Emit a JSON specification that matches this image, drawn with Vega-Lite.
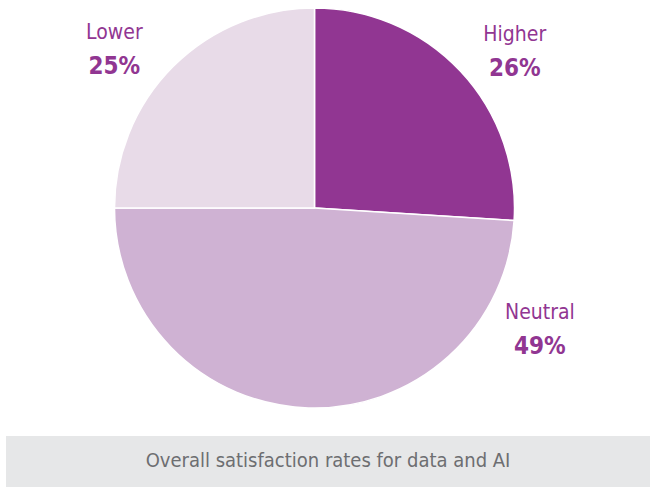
{
  "$schema": "https://vega.github.io/schema/vega-lite/v6.json",
  "padding": {"left": 6, "top": 0, "right": 0, "bottom": 0},
  "background": "white",
  "spacing": 20,
  "config": {"view": {"stroke": null}},
  "vconcat": [
    {
      "width": 617,
      "height": 416,
      "data": {"values": [
        {"category": "Higher", "pct": 26, "rank": 1},
        {"category": "Neutral", "pct": 49, "rank": 2},
        {"category": "Lower", "pct": 25, "rank": 3}
      ]},
      "transform": [{"calculate": "datum.pct + '%'", "as": "label"}],
      "layer": [
        {
          "mark": {"type": "arc", "outerRadius": 200, "stroke": "white", "strokeWidth": 1.5},
          "encoding": {
            "theta": {"field": "pct", "type": "quantitative", "stack": true},
            "order": {"field": "rank", "type": "quantitative"},
            "color": {"field": "category", "type": "nominal",
              "scale": {"domain": ["Higher", "Neutral", "Lower"], "range": ["#913692", "#cfb2d3", "#e8dbe8"]},
              "legend": null}
          }
        },
        {
          "transform": [{"filter": "datum.category === 'Lower'"}],
          "mark": {"type": "text", "font": "DejaVu Sans Condensed", "fontSize": 21, "color": "#913692", "align": "center", "baseline": "middle", "dy": -17, "theta": 5.381, "radius": 255},
          "encoding": {"text": {"field": "category", "type": "nominal"}}
        },
        {
          "transform": [{"filter": "datum.category === 'Lower'"}],
          "mark": {"type": "text", "font": "DejaVu Sans Condensed", "fontSize": 24, "fontWeight": "bold", "color": "#913692", "align": "center", "baseline": "middle", "dy": 17, "theta": 5.381, "radius": 255},
          "encoding": {"text": {"field": "label", "type": "nominal"}}
        },
        {
          "transform": [{"filter": "datum.category === 'Higher'"}],
          "mark": {"type": "text", "font": "DejaVu Sans Condensed", "fontSize": 21, "color": "#913692", "align": "center", "baseline": "middle", "dy": -17, "theta": 0.908, "radius": 254},
          "encoding": {"text": {"field": "category", "type": "nominal"}}
        },
        {
          "transform": [{"filter": "datum.category === 'Higher'"}],
          "mark": {"type": "text", "font": "DejaVu Sans Condensed", "fontSize": 24, "fontWeight": "bold", "color": "#913692", "align": "center", "baseline": "middle", "dy": 17, "theta": 0.908, "radius": 254},
          "encoding": {"text": {"field": "label", "type": "nominal"}}
        },
        {
          "transform": [{"filter": "datum.category === 'Neutral'"}],
          "mark": {"type": "text", "font": "DejaVu Sans Condensed", "fontSize": 21, "color": "#913692", "align": "center", "baseline": "middle", "dy": -17, "theta": 2.0685, "radius": 256.5},
          "encoding": {"text": {"field": "category", "type": "nominal"}}
        },
        {
          "transform": [{"filter": "datum.category === 'Neutral'"}],
          "mark": {"type": "text", "font": "DejaVu Sans Condensed", "fontSize": 24, "fontWeight": "bold", "color": "#913692", "align": "center", "baseline": "middle", "dy": 17, "theta": 2.0685, "radius": 256.5},
          "encoding": {"text": {"field": "label", "type": "nominal"}}
        }
      ]
    },
    {
      "width": 644,
      "height": 51,
      "view": {"fill": "#e6e7e8", "stroke": null},
      "data": {"values": [{"caption": "Overall satisfaction rates for data and AI"}]},
      "mark": {"type": "text", "font": "DejaVu Sans Condensed", "fontSize": 20, "color": "#6d6e71", "align": "center", "baseline": "middle", "dy": -1},
      "encoding": {"text": {"field": "caption", "type": "nominal"}}
    }
  ]
}
